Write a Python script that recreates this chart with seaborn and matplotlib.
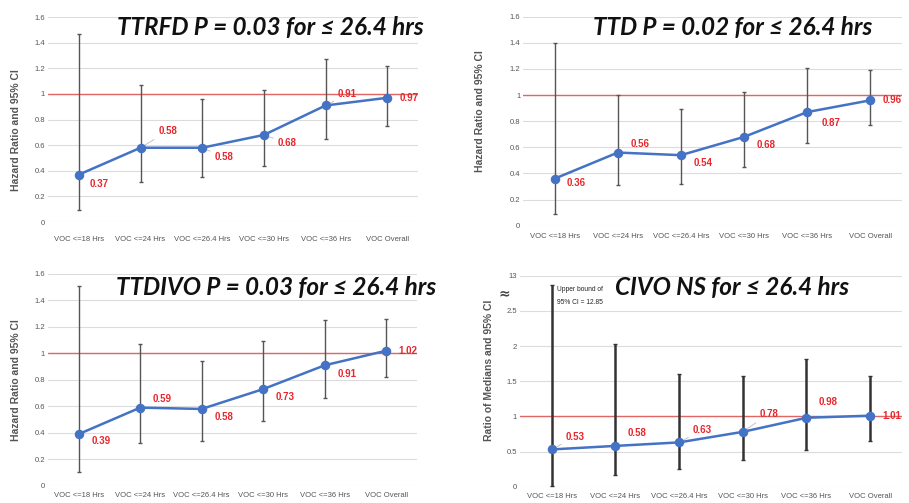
import numpy as np
import pandas as pd
import matplotlib
matplotlib.use("Agg")
import matplotlib.pyplot as plt
import seaborn as sns

sns.set_theme(style="white")
plt.rcParams['font.family'] = ['Liberation Sans', 'DejaVu Sans']

categories = ["VOC <=18 Hrs", "VOC <=24 Hrs", "VOC <=26.4 Hrs", "VOC <=30 Hrs", "VOC <=36 Hrs", "VOC Overall"]

ttrfd_val = [0.37, 0.58, 0.58, 0.68, 0.91, 0.97]
ttrfd_lo = [0.09, 0.31, 0.35, 0.44, 0.65, 0.75]
ttrfd_hi = [1.47, 1.07, 0.96, 1.03, 1.27, 1.22]

ttd_val = [0.36, 0.56, 0.54, 0.68, 0.87, 0.96]
ttd_lo = [0.09, 0.31, 0.32, 0.45, 0.63, 0.77]
ttd_hi = [1.40, 1.00, 0.89, 1.02, 1.21, 1.19]

ttdivo_val = [0.39, 0.59, 0.58, 0.73, 0.91, 1.02]
ttdivo_lo = [0.10, 0.32, 0.34, 0.49, 0.66, 0.82]
ttdivo_hi = [1.51, 1.07, 0.94, 1.09, 1.25, 1.26]

civo_val = [0.53, 0.58, 0.63, 0.78, 0.98, 1.01]
civo_lo = [0.01, 0.16, 0.25, 0.38, 0.52, 0.65]
civo_hi = [12.85, 2.03, 1.60, 1.58, 1.81, 1.58]

titles = ["TTRFD P = 0.03 for ≤ 26.4 hrs", "TTD P = 0.02 for ≤ 26.4 hrs",
          "TTDIVO P = 0.03 for ≤ 26.4 hrs", "CIVO NS for ≤ 26.4 hrs"]
ylabels = ["Hazard Ratio and 95% CI", "Hazard Ratio and 95% CI",
           "Hazard Ratio and 95% CI", "Ratio of Medians and 95% CI"]

# label placement: (dx, dy) in points, leader line flag
place1 = [(8, -7, 0), (13, 12, 1), (9, -7, 1), (10, -6, 1), (9, 8, 1), (9, 0, 0)]
place2 = [(9, -3, 0), (9, 6, 0), (9, -6, 0), (9, -6, 0), (10, -8, 0), (9, 0, 0)]
place3 = [(9, -5, 0), (9, 6, 0), (9, -6, 0), (9, -6, 0), (9, -6, 0), (9, 0, 0)]
place4 = [(10, 9, 1), (9, 9, 0), (10, 9, 1), (12, 13, 1), (9, 11, 0), (9, 0, 0)]

BLUE = "#4472C4"
RED = "#E8262C"
GRID = "#DCDCDC"
TXT = "#555555"


def civo_map(v):
    v = np.asarray(v, dtype=float)
    return np.where(v > 2.75, 3.0 - (13.0 - v) * 0.85, v)


fig = plt.figure(figsize=(9.09, 5.03), dpi=100)

axes_rect = [
    [0.0528, 0.5586, 0.4072, 0.4074],
    [0.5754, 0.5513, 0.4169, 0.4155],
    [0.0528, 0.0344, 0.4059, 0.4209],
    [0.5720, 0.0324, 0.4203, 0.4195],
]

panels = [
    (ttrfd_val, ttrfd_lo, ttrfd_hi, place1),
    (ttd_val, ttd_lo, ttd_hi, place2),
    (ttdivo_val, ttdivo_lo, ttdivo_hi, place3),
    (civo_val, civo_lo, civo_hi, place4),
]

title_pos = [(0.601, 0.951), (0.553, 0.946), (0.618, 0.934), (0.556, 0.942)]
ylabel_pos = [(-0.072, 0.45), (-0.10, 0.55), (-0.072, 0.5), (-0.068, 0.55)]
xpad = [10, 5.5, 4.5, 4.5]

for i, (vals, lo, hi, place) in enumerate(panels):
    ax = fig.add_axes(axes_rect[i])
    if i == 3:
        yv = civo_map(vals)
        ylo = civo_map(lo)
        yhi = civo_map(hi)
        ax.set_ylim(0, 3.0)
        ticks = [0, 0.5, 1, 1.5, 2, 2.5, 3.0]
        ax.set_yticks(ticks)
        ax.set_yticklabels(["0", "0.5", "1", "1.5", "2", "2.5", "13"])
        ebw = 1.8
        ebc = "#333333"
    else:
        yv = np.asarray(vals)
        ylo = np.asarray(lo)
        yhi = np.asarray(hi)
        ax.set_ylim(0, 1.6)
        ax.set_yticks(np.arange(0, 1.61, 0.2))
        ax.set_yticklabels(["0", "0.2", "0.4", "0.6", "0.8", "1", "1.2", "1.4", "1.6"])
        ebw = 1.0
        ebc = "#555555"

    df = pd.DataFrame({"cat": categories, "val": yv})
    x = np.arange(len(categories))
    ax.set_xlim(-0.5, len(categories) - 0.5)

    for t in ax.get_yticks():
        ax.axhline(t, color=GRID, lw=0.8, zorder=0)
    ax.axhline(1.0, color="#E06666", lw=1.0, zorder=1)

    ax.errorbar(x, yv, yerr=[yv - ylo, yhi - yv], fmt="none", ecolor=ebc,
                elinewidth=ebw, capsize=1.5, capthick=1.0, zorder=2)
    sns.pointplot(data=df, x="cat", y="val", color=BLUE, ax=ax,
                  markers="o", markersize=5.5, linewidth=1.8, zorder=3)
    ax.set_xlim(-0.5, len(categories) - 0.5)

    for j, v in enumerate(vals):
        dx, dy, lead = place[j]
        ap = dict(arrowstyle="-", color="#BBBBBB", lw=0.6, shrinkA=1, shrinkB=4) if lead else None
        ax.annotate(f"{v:.2f}", (x[j], yv[j]), xytext=(dx, dy), textcoords="offset points",
                    ha="left", va="center", fontsize=7, fontweight="bold", color=RED,
                    arrowprops=ap, zorder=5)

    for s in ax.spines.values():
        s.set_visible(False)
    ax.tick_params(axis="both", length=0, labelsize=5.5, colors=TXT, pad=2)
    ax.tick_params(axis="x", pad=xpad[i])
    ax.set_xlabel("")
    ax.set_ylabel(ylabels[i], fontsize=7.5, color=TXT, fontweight="bold")
    ax.yaxis.set_label_coords(*ylabel_pos[i])
    ax.set_facecolor("white")

    tx, ty = title_pos[i]
    ax.text(tx, ty, titles[i], transform=ax.transAxes, ha="center", va="center",
            fontsize=17.5, fontweight="bold", fontstyle="italic", family=["Lato", "DejaVu Sans"],
            color="#111111", zorder=6)

    if i == 3:
        ax.text(-0.025, 2.75, "≈", transform=ax.get_yaxis_transform(), ha="right", va="center",
                fontsize=10, fontweight="bold", color="#444444", clip_on=False,
                family=["DejaVu Sans"])
        ax.text(0.08, 2.71, "Upper bound of\n95% CI = 12.85", transform=ax.transData,
                ha="left", va="center", fontsize=4.8, color="#222222", linespacing=2.2)

fig.savefig("out.png", dpi=100, facecolor="white")
